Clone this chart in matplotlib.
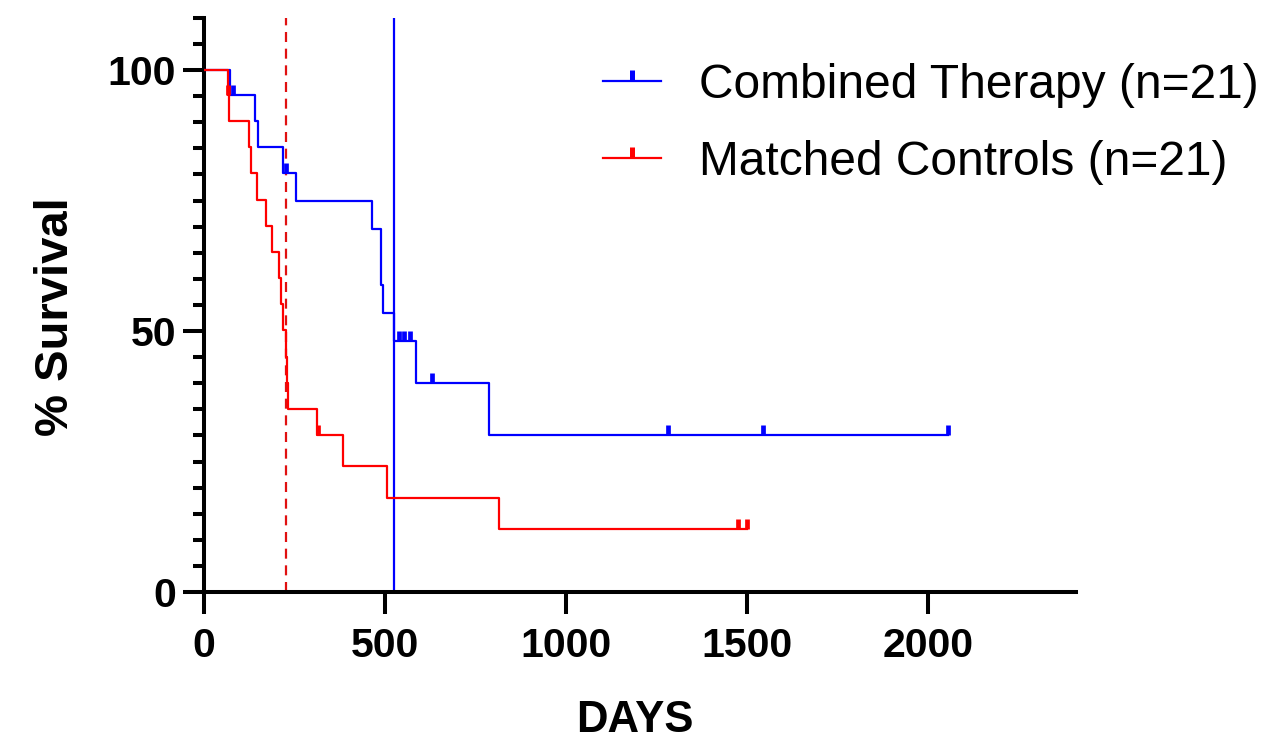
import numpy as np
import matplotlib
matplotlib.use("Agg")
import matplotlib.pyplot as plt
from matplotlib.lines import Line2D
from matplotlib.ticker import MultipleLocator

# ---- data (days) ----
labels = ["Combined Therapy (n=21)", "Matched Controls (n=21)"]
colors = ["#0000ff", "#ff0000"]

blue_death_days = [71, 141, 150, 218, 253, 463, 488, 488, 495, 526, 587, 788]
blue_censor_days = [80, 227, 539, 553, 570, 631, 1282, 1545, 2055]

red_death_days = [65, 69, 124, 129, 146, 172, 189, 207, 212, 219, 228, 230, 233,
                  312, 383, 505, 816]
red_censor_days = [67, 316, 1477, 1500]

x_ticks = [0, 500, 1000, 1500, 2000]
y_ticks = [0, 50, 100]


def kaplan_meier(deaths, censors):
    recs = [(t, 0) for t in deaths] + [(t, 1) for t in censors]
    recs.sort(key=lambda r: (r[0], r[1]))
    n = len(recs)
    s = 100.0
    xs, ys = [0.0], [100.0]
    cx, cy = [], []
    for t, c in recs:
        if c == 0:
            s *= (n - 1) / n
            xs.append(t)
            ys.append(s)
        else:
            cx.append(t)
            cy.append(s)
        n -= 1
    last = recs[-1][0]
    xs.append(last)
    ys.append(s)
    return np.array(xs), np.array(ys), np.array(cx), np.array(cy)


def median_time(xs, ys):
    for x, y in zip(xs, ys):
        if y <= 50:
            return x
    return None


fig = plt.figure(figsize=(12.64, 7.4), dpi=100)
ax = fig.add_axes([204 / 1264, 1 - 592 / 740, 872 / 1264, (592 - 17.8) / 740])

groups = [(blue_death_days, blue_censor_days), (red_death_days, red_censor_days)]
medians = []
for (d, c), col in zip(groups, colors):
    xs, ys, cx, cy = kaplan_meier(d, c)
    ax.step(xs, ys, where="post", color=col, lw=1.6, zorder=3)
    ax.plot(cx, cy, linestyle="none", marker=2, markersize=7.5, mew=3.4,
            color=col, zorder=4)
    medians.append(median_time(xs, ys))

ax.axvline(medians[0], color="#0000ff", lw=1.6, zorder=2)
ax.axvline(medians[1], color="#e01010", lw=1.6, ls=(0, (4.5, 3)), zorder=2)

ax.set_xlim(0, 2410)
ax.set_ylim(0, 110)
ax.set_xticks(x_ticks)
ax.set_yticks(y_ticks)
ax.yaxis.set_minor_locator(MultipleLocator(5))

for s in ["top", "right"]:
    ax.spines[s].set_visible(False)
for s in ["left", "bottom"]:
    ax.spines[s].set_linewidth(2.9)

tick_font = dict(family="Liberation Sans", weight="bold", size=29.5)
ax.tick_params(axis="y", which="major", length=15, width=2.9, pad=5)
ax.tick_params(axis="y", which="minor", length=8, width=2.9)
ax.tick_params(axis="x", which="major", length=16, width=2.9, pad=9)
for lab in ax.get_xticklabels() + ax.get_yticklabels():
    lab.set_fontproperties(matplotlib.font_manager.FontProperties(**tick_font))

ax.set_xlabel("DAYS", fontfamily="Liberation Sans", fontweight="bold", fontsize=31.5)
ax.set_ylabel("% Survival", fontfamily="Liberation Sans", fontweight="bold", fontsize=34)
ax.xaxis.label.set_va("center")
ax.xaxis.set_label_coords((635 - 204) / 872, (592 - 721) / 574.2)
ax.yaxis.label.set_va("center")
ax.yaxis.set_label_coords((56 - 204) / 872, (592 - 317) / 574.2)

handles = [Line2D([0], [0], color=col, lw=1.6, marker=2, markersize=8, mew=3.6)
           for col in colors]
fig.legend(handles, labels, loc="upper left", bbox_to_anchor=(603 / 1264, 1 - 63 / 740),
           frameon=False, borderpad=0, borderaxespad=0, handlelength=1.2,
           handletextpad=0.8, labelspacing=0.66,
           prop=dict(family="Liberation Sans", size=34.5))

fig.savefig("out.png", dpi=100)
